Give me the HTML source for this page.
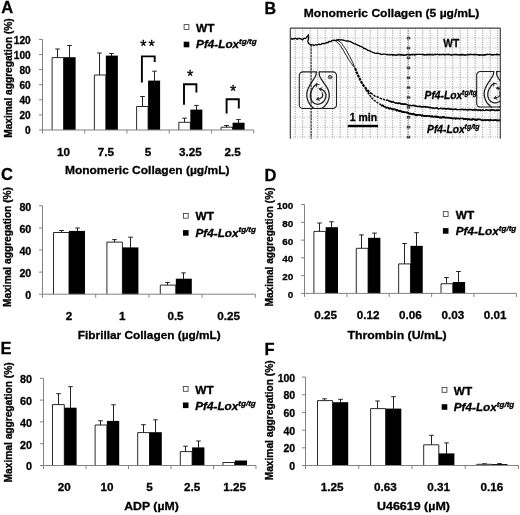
<!DOCTYPE html>
<html lang="en"><head><meta charset="utf-8"><title>Figure</title>
<style>html,body{margin:0;padding:0;background:#fff}svg{display:block}text{font-family:'Liberation Sans', 'DejaVu Sans', sans-serif;font-weight:bold;fill:#000;stroke:#000;stroke-width:0.3px;stroke-linejoin:round}</style>
</head><body>
<svg width="520" height="515" viewBox="0 0 520 515">
<rect width="520" height="515" fill="#fff"/>
<text x="1.3" y="13.4" font-size="16.5">A</text>
<path d="M39.0 130.00H42.5" stroke="#828282" stroke-width="1"/>
<text x="30.7" y="134.40" font-size="10.1" text-anchor="end">0</text>
<path d="M39.0 114.90H42.5" stroke="#828282" stroke-width="1"/>
<text x="30.7" y="119.30" font-size="10.1" text-anchor="end">20</text>
<path d="M39.0 99.80H42.5" stroke="#828282" stroke-width="1"/>
<text x="30.7" y="104.20" font-size="10.1" text-anchor="end">40</text>
<path d="M39.0 84.70H42.5" stroke="#828282" stroke-width="1"/>
<text x="30.7" y="89.10" font-size="10.1" text-anchor="end">60</text>
<path d="M39.0 69.60H42.5" stroke="#828282" stroke-width="1"/>
<text x="30.7" y="74.00" font-size="10.1" text-anchor="end">80</text>
<path d="M39.0 54.50H42.5" stroke="#828282" stroke-width="1"/>
<text x="30.7" y="58.90" font-size="10.1" text-anchor="end">100</text>
<path d="M39.0 39.40H42.5" stroke="#828282" stroke-width="1"/>
<text x="30.7" y="43.80" font-size="10.1" text-anchor="end">120</text>
<path d="M42.50 130V133.5" stroke="#828282" stroke-width="1"/>
<path d="M84.74 130V133.5" stroke="#828282" stroke-width="1"/>
<path d="M126.98 130V133.5" stroke="#828282" stroke-width="1"/>
<path d="M169.22 130V133.5" stroke="#828282" stroke-width="1"/>
<path d="M211.46 130V133.5" stroke="#828282" stroke-width="1"/>
<path d="M253.70 130V133.5" stroke="#828282" stroke-width="1"/>
<path d="M57.5 57.6V49M55.2 49h4.6" stroke="#222" stroke-width="1" fill="none"/>
<path d="M69.5 57.6V45.5M67.2 45.5h4.6" stroke="#222" stroke-width="1" fill="none"/>
<path d="M52.12 130V57.6H63.62V130" fill="#fff" stroke="#111" stroke-width="0.9"/>
<rect x="63.62" y="57.2" width="12.00" height="72.80" fill="#000"/>
<path d="M99.5 75V53M97.2 53h4.6" stroke="#222" stroke-width="1" fill="none"/>
<path d="M111.5 56V53.5M109.2 53.5h4.6" stroke="#222" stroke-width="1" fill="none"/>
<path d="M94.36 130V75H105.86V130" fill="#fff" stroke="#111" stroke-width="0.9"/>
<rect x="105.86" y="55.6" width="12.00" height="74.40" fill="#000"/>
<path d="M142.5 106.5V96.5M140.2 96.5h4.6" stroke="#222" stroke-width="1" fill="none"/>
<path d="M154.5 81V71.2M152.2 71.2h4.6" stroke="#222" stroke-width="1" fill="none"/>
<path d="M136.60 130V106.5H148.10V130" fill="#fff" stroke="#111" stroke-width="0.9"/>
<rect x="148.10" y="80.6" width="12.00" height="49.40" fill="#000"/>
<path d="M184.5 122.3V118.2M182.2 118.2h4.6" stroke="#222" stroke-width="1" fill="none"/>
<path d="M196.5 110V105.4M194.2 105.4h4.6" stroke="#222" stroke-width="1" fill="none"/>
<path d="M178.84 130V122.3H190.34V130" fill="#fff" stroke="#111" stroke-width="0.9"/>
<rect x="190.34" y="109.6" width="12.00" height="20.40" fill="#000"/>
<path d="M226.5 127.2V125.5M224.2 125.5h4.6" stroke="#222" stroke-width="1" fill="none"/>
<path d="M238.5 123.1V119.6M236.2 119.6h4.6" stroke="#222" stroke-width="1" fill="none"/>
<path d="M221.08 130V127.2H232.58V130" fill="#fff" stroke="#111" stroke-width="0.9"/>
<rect x="232.58" y="122.69999999999999" width="12.00" height="7.30" fill="#000"/>
<path d="M42.5 39.4V130H253.7" fill="none" stroke="#828282" stroke-width="1"/>
<text x="63.62" y="156" font-size="11.7" text-anchor="middle">10</text>
<text x="105.86" y="156" font-size="11.7" text-anchor="middle">7.5</text>
<text x="148.10" y="156" font-size="11.7" text-anchor="middle">5</text>
<text x="190.34" y="156" font-size="11.7" text-anchor="middle">3.25</text>
<text x="232.58" y="156" font-size="11.7" text-anchor="middle">2.5</text>
<text x="147.2" y="173.5" font-size="11.7" text-anchor="middle" textLength="164.5" lengthAdjust="spacingAndGlyphs">Monomeric Collagen (µg/mL)</text>
<text transform="translate(11.7 78) rotate(-90)" font-size="10.4" text-anchor="middle" textLength="119.5" lengthAdjust="spacingAndGlyphs">Maximal aggregation (%)</text>
<rect x="184.10000000000002" y="24.6" width="4.8" height="4.8" fill="#fff" stroke="#333" stroke-width="0.8"/>
<rect x="183.70000000000002" y="41.699999999999996" width="5.6" height="5.6" fill="#000"/>
<text x="196.1" y="31.7" font-size="10.8" textLength="18.4" lengthAdjust="spacingAndGlyphs">WT</text>
<text x="196.1" y="47.9" font-size="10.6" font-style="italic"><tspan textLength="43" lengthAdjust="spacingAndGlyphs">Pf4-Lox</tspan><tspan dy="-4.2" font-size="7.8" textLength="17.5" lengthAdjust="spacingAndGlyphs">tg/tg</tspan></text>
<path d="M141.9 82.5V56.4H154.7V62" fill="none" stroke="#000" stroke-width="1.9"/>
<path d="M184 104.8V84.3H196.4V92.4" fill="none" stroke="#000" stroke-width="1.9"/>
<path d="M226.6 113.4V99.3H238.8V108.5" fill="none" stroke="#000" stroke-width="1.9"/>
<text x="148.6" y="52.2" font-size="16" text-anchor="middle" style="font-weight:normal;stroke-width:0.35px;letter-spacing:2px">**</text>
<text x="191" y="81.6" font-size="16" text-anchor="middle" style="font-weight:normal;stroke-width:0.35px;letter-spacing:2px">*</text>
<text x="234.2" y="97" font-size="16" text-anchor="middle" style="font-weight:normal;stroke-width:0.35px;letter-spacing:2px">*</text>
<text x="1" y="180.3" font-size="16.5">C</text>
<path d="M39.0 294.20H42.5" stroke="#828282" stroke-width="1"/>
<text x="31.3" y="299.40" font-size="10.7" text-anchor="end">0</text>
<path d="M39.0 272.10H42.5" stroke="#828282" stroke-width="1"/>
<text x="31.3" y="277.30" font-size="10.7" text-anchor="end">20</text>
<path d="M39.0 250.00H42.5" stroke="#828282" stroke-width="1"/>
<text x="31.3" y="255.20" font-size="10.7" text-anchor="end">40</text>
<path d="M39.0 227.90H42.5" stroke="#828282" stroke-width="1"/>
<text x="31.3" y="233.10" font-size="10.7" text-anchor="end">60</text>
<path d="M39.0 205.80H42.5" stroke="#828282" stroke-width="1"/>
<text x="31.3" y="211.00" font-size="10.7" text-anchor="end">80</text>
<path d="M42.50 294.2V297.7" stroke="#828282" stroke-width="1"/>
<path d="M95.70 294.2V297.7" stroke="#828282" stroke-width="1"/>
<path d="M148.90 294.2V297.7" stroke="#828282" stroke-width="1"/>
<path d="M202.10 294.2V297.7" stroke="#828282" stroke-width="1"/>
<path d="M255.30 294.2V297.7" stroke="#828282" stroke-width="1"/>
<path d="M61.5 232.5V230.5M59.2 230.5h4.6" stroke="#222" stroke-width="1" fill="none"/>
<path d="M77.5 231.3V228M75.2 228h4.6" stroke="#222" stroke-width="1" fill="none"/>
<path d="M53.50 294.2V232.5H69.00V294.2" fill="#fff" stroke="#111" stroke-width="0.9"/>
<rect x="69.00" y="230.9" width="16.00" height="63.30" fill="#000"/>
<path d="M114.5 242.1V239.6M112.2 239.6h4.6" stroke="#222" stroke-width="1" fill="none"/>
<path d="M130.5 247.8V237.2M128.2 237.2h4.6" stroke="#222" stroke-width="1" fill="none"/>
<path d="M106.90 294.2V242.1H122.40V294.2" fill="#fff" stroke="#111" stroke-width="0.9"/>
<rect x="122.40" y="247.4" width="16.00" height="46.80" fill="#000"/>
<path d="M167.5 285.1V282.4M165.2 282.4h4.6" stroke="#222" stroke-width="1" fill="none"/>
<path d="M183.5 279.1V272.9M181.2 272.9h4.6" stroke="#222" stroke-width="1" fill="none"/>
<path d="M160.30 294.2V285.1H175.80V294.2" fill="#fff" stroke="#111" stroke-width="0.9"/>
<rect x="175.80" y="278.70000000000005" width="16.00" height="15.50" fill="#000"/>
<path d="M42.5 205.8V294.2H255.3" fill="none" stroke="#828282" stroke-width="1"/>
<text x="69.10" y="320" font-size="11.7" text-anchor="middle">2</text>
<text x="122.30" y="320" font-size="11.7" text-anchor="middle">1</text>
<text x="175.50" y="320" font-size="11.7" text-anchor="middle">0.5</text>
<text x="228.70" y="320" font-size="11.7" text-anchor="middle">0.25</text>
<text x="149.3" y="339" font-size="11.7" text-anchor="middle" textLength="143" lengthAdjust="spacingAndGlyphs">Fibrillar Collagen (µg/mL)</text>
<text transform="translate(11.4 247) rotate(-90)" font-size="10.4" text-anchor="middle" textLength="120" lengthAdjust="spacingAndGlyphs">Maximal aggregation (%)</text>
<rect x="183.4" y="213.4" width="4.8" height="4.8" fill="#fff" stroke="#333" stroke-width="0.8"/>
<rect x="183.0" y="230.1" width="5.6" height="5.6" fill="#000"/>
<text x="195.5" y="220.4" font-size="10.8" textLength="18.4" lengthAdjust="spacingAndGlyphs">WT</text>
<text x="195.5" y="236.6" font-size="10.6" font-style="italic"><tspan textLength="43" lengthAdjust="spacingAndGlyphs">Pf4-Lox</tspan><tspan dy="-4.2" font-size="7.8" textLength="17.5" lengthAdjust="spacingAndGlyphs">tg/tg</tspan></text>
<text x="0.4" y="354" font-size="16.5">E</text>
<path d="M40.0 465.50H43.5" stroke="#828282" stroke-width="1"/>
<text x="32.1" y="470.40" font-size="10.8" text-anchor="end">0</text>
<path d="M40.0 443.70H43.5" stroke="#828282" stroke-width="1"/>
<text x="32.1" y="448.60" font-size="10.8" text-anchor="end">20</text>
<path d="M40.0 421.90H43.5" stroke="#828282" stroke-width="1"/>
<text x="32.1" y="426.80" font-size="10.8" text-anchor="end">40</text>
<path d="M40.0 400.10H43.5" stroke="#828282" stroke-width="1"/>
<text x="32.1" y="405.00" font-size="10.8" text-anchor="end">60</text>
<path d="M40.0 378.30H43.5" stroke="#828282" stroke-width="1"/>
<text x="32.1" y="383.20" font-size="10.8" text-anchor="end">80</text>
<path d="M43.50 465.5V469.0" stroke="#828282" stroke-width="1"/>
<path d="M86.00 465.5V469.0" stroke="#828282" stroke-width="1"/>
<path d="M128.50 465.5V469.0" stroke="#828282" stroke-width="1"/>
<path d="M171.00 465.5V469.0" stroke="#828282" stroke-width="1"/>
<path d="M213.50 465.5V469.0" stroke="#828282" stroke-width="1"/>
<path d="M256.00 465.5V469.0" stroke="#828282" stroke-width="1"/>
<path d="M58.5 404.6V393.7M56.2 393.7h4.6" stroke="#222" stroke-width="1" fill="none"/>
<path d="M70.5 408.1V386.7M68.2 386.7h4.6" stroke="#222" stroke-width="1" fill="none"/>
<path d="M52.50 465.5V404.6H64.30V465.5" fill="#fff" stroke="#111" stroke-width="0.9"/>
<rect x="64.30" y="407.70000000000005" width="12.30" height="57.80" fill="#000"/>
<path d="M100.5 425V420.8M98.2 420.8h4.6" stroke="#222" stroke-width="1" fill="none"/>
<path d="M113.5 421.3V404.8M111.2 404.8h4.6" stroke="#222" stroke-width="1" fill="none"/>
<path d="M95.10 465.5V425H106.90V465.5" fill="#fff" stroke="#111" stroke-width="0.9"/>
<rect x="106.90" y="420.90000000000003" width="12.30" height="44.60" fill="#000"/>
<path d="M143.5 432.6V424.7M141.2 424.7h4.6" stroke="#222" stroke-width="1" fill="none"/>
<path d="M155.5 432.6V419.8M153.2 419.8h4.6" stroke="#222" stroke-width="1" fill="none"/>
<path d="M137.70 465.5V432.6H149.50V465.5" fill="#fff" stroke="#111" stroke-width="0.9"/>
<rect x="149.50" y="432.20000000000005" width="12.30" height="33.30" fill="#000"/>
<path d="M185.5 451.6V446.2M183.2 446.2h4.6" stroke="#222" stroke-width="1" fill="none"/>
<path d="M198.5 447.8V441M196.2 441h4.6" stroke="#222" stroke-width="1" fill="none"/>
<path d="M180.30 465.5V451.6H192.10V465.5" fill="#fff" stroke="#111" stroke-width="0.9"/>
<rect x="192.10" y="447.40000000000003" width="12.30" height="18.10" fill="#000"/>
<path d="M222.90 465.5V462.5H234.70V465.5" fill="#fff" stroke="#111" stroke-width="0.9"/>
<rect x="234.70" y="460.5" width="12.30" height="5.00" fill="#000"/>
<path d="M43.5 378.3V465.5H256" fill="none" stroke="#828282" stroke-width="1"/>
<text x="64.30" y="491" font-size="11.7" text-anchor="middle">20</text>
<text x="106.90" y="491" font-size="11.7" text-anchor="middle">10</text>
<text x="149.50" y="491" font-size="11.7" text-anchor="middle">5</text>
<text x="192.10" y="491" font-size="11.7" text-anchor="middle">2.5</text>
<text x="234.70" y="491" font-size="11.7" text-anchor="middle">1.25</text>
<text x="151.5" y="509.7" font-size="11.7" text-anchor="middle" textLength="54.5" lengthAdjust="spacingAndGlyphs">ADP (µM)</text>
<text transform="translate(11.8 422.4) rotate(-90)" font-size="10.4" text-anchor="middle" textLength="120" lengthAdjust="spacingAndGlyphs">Maximal aggregation (%)</text>
<rect x="183.3" y="386.5" width="4.8" height="4.8" fill="#fff" stroke="#333" stroke-width="0.8"/>
<rect x="182.9" y="402.5" width="5.6" height="5.6" fill="#000"/>
<text x="195.3" y="393.7" font-size="10.8" textLength="18.4" lengthAdjust="spacingAndGlyphs">WT</text>
<text x="195.3" y="409.8" font-size="10.6" font-style="italic"><tspan textLength="43" lengthAdjust="spacingAndGlyphs">Pf4-Lox</tspan><tspan dy="-4.2" font-size="7.8" textLength="17.5" lengthAdjust="spacingAndGlyphs">tg/tg</tspan></text>
<text x="264.5" y="180.6" font-size="16.5">D</text>
<path d="M301.0 293.40H304.5" stroke="#828282" stroke-width="1"/>
<text x="293.3" y="297.80" font-size="9.9" text-anchor="end">0</text>
<path d="M301.0 275.64H304.5" stroke="#828282" stroke-width="1"/>
<text x="293.3" y="280.04" font-size="9.9" text-anchor="end">20</text>
<path d="M301.0 257.88H304.5" stroke="#828282" stroke-width="1"/>
<text x="293.3" y="262.28" font-size="9.9" text-anchor="end">40</text>
<path d="M301.0 240.12H304.5" stroke="#828282" stroke-width="1"/>
<text x="293.3" y="244.52" font-size="9.9" text-anchor="end">60</text>
<path d="M301.0 222.36H304.5" stroke="#828282" stroke-width="1"/>
<text x="293.3" y="226.76" font-size="9.9" text-anchor="end">80</text>
<path d="M301.0 204.60H304.5" stroke="#828282" stroke-width="1"/>
<text x="293.3" y="209.00" font-size="9.9" text-anchor="end">100</text>
<path d="M304.50 293.4V296.9" stroke="#828282" stroke-width="1"/>
<path d="M346.88 293.4V296.9" stroke="#828282" stroke-width="1"/>
<path d="M389.26 293.4V296.9" stroke="#828282" stroke-width="1"/>
<path d="M431.64 293.4V296.9" stroke="#828282" stroke-width="1"/>
<path d="M474.02 293.4V296.9" stroke="#828282" stroke-width="1"/>
<path d="M516.40 293.4V296.9" stroke="#828282" stroke-width="1"/>
<path d="M319.5 231.4V223M317.2 223h4.6" stroke="#222" stroke-width="1" fill="none"/>
<path d="M331.5 227.6V221.8M329.2 221.8h4.6" stroke="#222" stroke-width="1" fill="none"/>
<path d="M313.89 293.4V231.4H325.69V293.4" fill="#fff" stroke="#111" stroke-width="0.9"/>
<rect x="325.69" y="227.2" width="12.30" height="66.20" fill="#000"/>
<path d="M361.5 248.3V234.9M359.2 234.9h4.6" stroke="#222" stroke-width="1" fill="none"/>
<path d="M374.5 238.2V233.1M372.2 233.1h4.6" stroke="#222" stroke-width="1" fill="none"/>
<path d="M356.27 293.4V248.3H368.07V293.4" fill="#fff" stroke="#111" stroke-width="0.9"/>
<rect x="368.07" y="237.79999999999998" width="12.30" height="55.60" fill="#000"/>
<path d="M404.5 263.9V243.5M402.2 243.5h4.6" stroke="#222" stroke-width="1" fill="none"/>
<path d="M416.5 246.25V232.7M414.2 232.7h4.6" stroke="#222" stroke-width="1" fill="none"/>
<path d="M398.65 293.4V263.9H410.45V293.4" fill="#fff" stroke="#111" stroke-width="0.9"/>
<rect x="410.45" y="245.85" width="12.30" height="47.55" fill="#000"/>
<path d="M446.5 283.75V277.5M444.2 277.5h4.6" stroke="#222" stroke-width="1" fill="none"/>
<path d="M458.5 282.4V271.5M456.2 271.5h4.6" stroke="#222" stroke-width="1" fill="none"/>
<path d="M441.03 293.4V283.75H452.83V293.4" fill="#fff" stroke="#111" stroke-width="0.9"/>
<rect x="452.83" y="282.0" width="12.30" height="11.40" fill="#000"/>
<path d="M304.5 204.6V293.4H516.4" fill="none" stroke="#828282" stroke-width="1"/>
<text x="325.69" y="319" font-size="11.7" text-anchor="middle">0.25</text>
<text x="368.07" y="319" font-size="11.7" text-anchor="middle">0.12</text>
<text x="410.45" y="319" font-size="11.7" text-anchor="middle">0.06</text>
<text x="452.83" y="319" font-size="11.7" text-anchor="middle">0.03</text>
<text x="495.21" y="319" font-size="11.7" text-anchor="middle">0.01</text>
<text x="397" y="338.5" font-size="11.7" text-anchor="middle" textLength="99" lengthAdjust="spacingAndGlyphs">Thrombin (U/mL)</text>
<text transform="translate(273 247) rotate(-90)" font-size="10.4" text-anchor="middle" textLength="119" lengthAdjust="spacingAndGlyphs">Maximal aggregation (%)</text>
<rect x="443.3" y="211.60000000000002" width="4.8" height="4.8" fill="#fff" stroke="#333" stroke-width="0.8"/>
<rect x="442.9" y="228.1" width="5.6" height="5.6" fill="#000"/>
<text x="455.8" y="218.5" font-size="10.8" textLength="18.4" lengthAdjust="spacingAndGlyphs">WT</text>
<text x="455.8" y="235.2" font-size="10.6" font-style="italic"><tspan textLength="43" lengthAdjust="spacingAndGlyphs">Pf4-Lox</tspan><tspan dy="-4.2" font-size="7.8" textLength="17.5" lengthAdjust="spacingAndGlyphs">tg/tg</tspan></text>
<text x="264.5" y="355" font-size="16.5">F</text>
<path d="M302.0 465.50H305.5" stroke="#828282" stroke-width="1"/>
<text x="295.2" y="469.90" font-size="10.5" text-anchor="end">0</text>
<path d="M302.0 447.82H305.5" stroke="#828282" stroke-width="1"/>
<text x="295.2" y="452.22" font-size="10.5" text-anchor="end">20</text>
<path d="M302.0 430.14H305.5" stroke="#828282" stroke-width="1"/>
<text x="295.2" y="434.54" font-size="10.5" text-anchor="end">40</text>
<path d="M302.0 412.46H305.5" stroke="#828282" stroke-width="1"/>
<text x="295.2" y="416.86" font-size="10.5" text-anchor="end">60</text>
<path d="M302.0 394.78H305.5" stroke="#828282" stroke-width="1"/>
<text x="295.2" y="399.18" font-size="10.5" text-anchor="end">80</text>
<path d="M302.0 377.10H305.5" stroke="#828282" stroke-width="1"/>
<text x="295.2" y="381.50" font-size="10.5" text-anchor="end">100</text>
<path d="M305.50 465.5V469.0" stroke="#828282" stroke-width="1"/>
<path d="M358.75 465.5V469.0" stroke="#828282" stroke-width="1"/>
<path d="M412.00 465.5V469.0" stroke="#828282" stroke-width="1"/>
<path d="M465.25 465.5V469.0" stroke="#828282" stroke-width="1"/>
<path d="M518.50 465.5V469.0" stroke="#828282" stroke-width="1"/>
<path d="M324.5 400.6V398.8M322.2 398.8h4.6" stroke="#222" stroke-width="1" fill="none"/>
<path d="M340.5 402.6V399.3M338.2 399.3h4.6" stroke="#222" stroke-width="1" fill="none"/>
<path d="M317.50 465.5V400.6H332.60V465.5" fill="#fff" stroke="#111" stroke-width="0.9"/>
<rect x="332.60" y="402.20000000000005" width="15.60" height="63.30" fill="#000"/>
<path d="M377.5 408.6V401M375.2 401h4.6" stroke="#222" stroke-width="1" fill="none"/>
<path d="M393.5 409V396.7M391.2 396.7h4.6" stroke="#222" stroke-width="1" fill="none"/>
<path d="M370.60 465.5V408.6H385.70V465.5" fill="#fff" stroke="#111" stroke-width="0.9"/>
<rect x="385.70" y="408.6" width="15.60" height="56.90" fill="#000"/>
<path d="M431.5 444.8V435.3M429.2 435.3h4.6" stroke="#222" stroke-width="1" fill="none"/>
<path d="M446.5 453.8V442.9M444.2 442.9h4.6" stroke="#222" stroke-width="1" fill="none"/>
<path d="M423.70 465.5V444.8H438.80V465.5" fill="#fff" stroke="#111" stroke-width="0.9"/>
<rect x="438.80" y="453.40000000000003" width="15.60" height="12.10" fill="#000"/>
<path d="M484.5 464.3V463.8M482.2 463.8h4.6" stroke="#222" stroke-width="1" fill="none"/>
<path d="M499.5 464.5V463.6M497.2 463.6h4.6" stroke="#222" stroke-width="1" fill="none"/>
<path d="M476.80 465.5V464.3H491.90V465.5" fill="#fff" stroke="#111" stroke-width="0.9"/>
<rect x="491.90" y="464.1" width="15.60" height="1.40" fill="#000"/>
<path d="M305.5 377.1V465.5H518.5" fill="none" stroke="#828282" stroke-width="1"/>
<text x="332.12" y="491" font-size="11.7" text-anchor="middle">1.25</text>
<text x="385.38" y="491" font-size="11.7" text-anchor="middle">0.63</text>
<text x="438.62" y="491" font-size="11.7" text-anchor="middle">0.31</text>
<text x="491.88" y="491" font-size="11.7" text-anchor="middle">0.16</text>
<text x="413.5" y="509.7" font-size="11.7" text-anchor="middle" textLength="73" lengthAdjust="spacingAndGlyphs">U46619 (µM)</text>
<text transform="translate(273.4 420.3) rotate(-90)" font-size="10.4" text-anchor="middle" textLength="120" lengthAdjust="spacingAndGlyphs">Maximal aggregation (%)</text>
<rect x="442.1" y="387.5" width="4.8" height="4.8" fill="#fff" stroke="#333" stroke-width="0.8"/>
<rect x="441.7" y="404.2" width="5.6" height="5.6" fill="#000"/>
<text x="453.8" y="395.1" font-size="10.8" textLength="18.4" lengthAdjust="spacingAndGlyphs">WT</text>
<text x="453.8" y="410.9" font-size="10.6" font-style="italic"><tspan textLength="43" lengthAdjust="spacingAndGlyphs">Pf4-Lox</tspan><tspan dy="-4.2" font-size="7.8" textLength="17.5" lengthAdjust="spacingAndGlyphs">tg/tg</tspan></text>
<text x="264.5" y="13.8" font-size="16">B</text>
<text x="391.6" y="17.3" font-size="11.8" text-anchor="middle" textLength="175.5" lengthAdjust="spacingAndGlyphs">Monomeric Collagen (5 µg/mL)</text>
<g id="panelB">
<clipPath id="cb"><rect x="290.3" y="28.1" width="210.0" height="110.70000000000002"/></clipPath>
<rect x="290.3" y="28.1" width="210.0" height="110.70000000000002" fill="#fcfcfc"/>
<g clip-path="url(#cb)" stroke="#8e8e8e" stroke-width="0.9" fill="none">
<path d="M295.2 28.1V138.8M302.7 28.1V138.8M310.2 28.1V138.8M317.7 28.1V138.8M325.2 28.1V138.8M332.7 28.1V138.8M340.2 28.1V138.8M347.7 28.1V138.8M355.2 28.1V138.8M362.7 28.1V138.8M370.2 28.1V138.8M377.7 28.1V138.8M385.2 28.1V138.8M392.7 28.1V138.8M400.2 28.1V138.8M407.7 28.1V138.8M415.2 28.1V138.8M422.7 28.1V138.8M430.2 28.1V138.8M437.7 28.1V138.8M445.2 28.1V138.8M452.7 28.1V138.8M460.2 28.1V138.8M467.7 28.1V138.8M475.2 28.1V138.8M482.7 28.1V138.8M490.2 28.1V138.8M497.7 28.1V138.8" stroke-dasharray="1.1 1.2"/>
<path d="M290.3 28.1H500.3M290.3 38.0H500.3M290.3 47.9H500.3M290.3 57.8H500.3M290.3 67.7H500.3M290.3 77.6H500.3M290.3 87.5H500.3M290.3 97.4H500.3M290.3 107.3H500.3M290.3 117.2H500.3M290.3 127.1H500.3M290.3 137.0H500.3" stroke-dasharray="0.9 1.4" stroke="#b6b6b6"/>
</g>
<rect x="406.8" y="36.8" width="3.4" height="2.6" fill="#3c3c3c"/><rect x="406.8" y="46.7" width="3.4" height="2.6" fill="#3c3c3c"/><rect x="406.8" y="56.6" width="3.4" height="2.6" fill="#3c3c3c"/><rect x="406.8" y="66.5" width="3.4" height="2.6" fill="#3c3c3c"/><rect x="406.8" y="76.4" width="3.4" height="2.6" fill="#3c3c3c"/><rect x="406.8" y="86.3" width="3.4" height="2.6" fill="#3c3c3c"/><rect x="406.8" y="96.2" width="3.4" height="2.6" fill="#3c3c3c"/><rect x="406.8" y="106.1" width="3.4" height="2.6" fill="#3c3c3c"/><rect x="406.8" y="116.0" width="3.4" height="2.6" fill="#3c3c3c"/><rect x="406.8" y="125.9" width="3.4" height="2.6" fill="#3c3c3c"/><rect x="406.8" y="135.8" width="3.4" height="2.6" fill="#3c3c3c"/>
<path d="M408.5 28.1V138.8" stroke="#8a8a8a" stroke-width="0.9" stroke-dasharray="1.2 1.2"/>
<path d="M311.2 45V138.8" stroke="#606060" stroke-width="1.5" stroke-dasharray="2.6 0.7"/>
<g clip-path="url(#cb)" fill="none" stroke="#000" stroke-linejoin="round" stroke-linecap="round">
<path d="M290.6 38.6L291.2 38.5L292.1 39.4L293.0 38.7L294.0 39.0L295.0 38.4L296.0 38.4L297.0 39.4L298.0 38.5L299.0 38.7L300.0 38.5L301.0 38.9L301.8 39.4L302.6 39.8L303.4 38.7L304.3 38.3L305.0 38.4L305.7 38.5L306.4 37.5L307.0 36.6L307.6 36.7L308.3 34.6L308.4 36.3L308.5 36.4L308.5 37.2L308.5 38.1L308.3 39.4L307.9 41.1L307.8 41.2L308.2 42.8L309.0 43.8L309.6 44.0L310.3 44.9L311.0 44.6L311.9 44.8L313.0 44.9L313.9 45.5L315.0 45.0L316.0 44.7L317.0 45.0L318.0 44.6L319.0 44.2L320.0 44.7L321.0 44.3L322.0 43.4L323.0 43.6L324.0 43.3L325.0 43.5L326.0 43.1L327.0 42.2L328.0 42.9L329.0 41.4L330.0 41.5L331.0 41.7L332.0 40.5L333.0 40.7L334.0 39.9L334.9 40.6L335.8 40.5L336.6 40.1L337.2 39.9" stroke-width="1.3"/>
<path d="M337.2 40.1L338.4 39.6L340.0 39.9L341.1 39.9L342.3 40.0L343.4 40.1L345.0 40.6L346.5 41.0L348.0 40.9L349.5 41.5L350.5 41.4L351.6 42.3L352.6 42.7L353.6 43.5L354.7 43.9L355.7 44.0L356.7 44.6L357.8 45.3L358.8 45.3L359.8 46.2L360.8 46.4L361.8 46.9L362.9 47.4L363.9 48.5L365.0 48.5L366.0 49.1L367.0 49.7L368.0 50.6L369.4 50.6L371.0 51.6L372.2 52.0L373.5 52.7L375.0 53.1L376.1 53.3L377.3 53.1L378.5 53.5L379.8 53.7L381.0 54.3L382.2 54.5L383.5 54.0L384.7 54.2L385.9 54.3L387.0 54.4L388.3 54.7L389.4 54.8L391.0 54.6L391.8 54.4L392.6 54.8L393.5 54.7L394.5 54.9L395.6 55.2L396.9 55.0L398.3 54.8L400.0 54.9L400.8 54.9L401.7 54.4L402.7 55.1L403.7 55.0L404.8 55.1L405.9 55.0L407.0 54.7L408.1 54.7L409.3 54.4L410.5 54.9L411.7 54.4L412.9 54.4L414.1 54.5L415.3 54.5L416.5 54.6L417.7 54.4L418.9 54.3L420.0 54.4L421.1 54.4L422.2 54.6L423.3 54.3L424.4 55.0L425.6 54.8L426.7 54.4L427.8 54.5L428.9 54.5L430.0 54.5L431.1 54.3L432.2 54.9L433.3 55.0L434.4 54.6L435.6 54.6L436.7 54.3L437.8 54.3L438.9 54.5L440.0 54.4L441.1 54.9L442.2 54.3L443.3 54.2L444.4 55.0L445.6 54.6L446.7 54.3L447.8 54.6L448.9 54.2L450.0 54.6L451.1 55.0L452.2 54.9L453.3 54.7L454.4 54.4L455.6 54.5L456.7 54.3L457.8 54.8L458.9 54.6L460.0 54.8L461.1 54.5L462.2 54.4L463.3 54.9L464.4 55.0L465.6 54.9L466.7 54.9L467.8 54.9L468.9 54.8L470.0 54.4L471.1 54.7L472.2 54.6L473.3 54.3L474.5 54.3L475.6 54.5L476.7 54.5L477.8 54.9L478.9 55.1L480.0 54.7L481.1 55.0L482.3 55.1L483.5 55.1L484.8 54.6L486.1 54.5L487.3 54.5L488.6 54.4L489.9 54.4L491.1 54.8L492.4 55.0L493.5 54.9L494.7 54.6L495.7 54.7L496.7 54.9L497.6 54.3L498.5 54.7L499.2 54.9L499.8 54.6" stroke-width="1.3"/>
<path d="M387.0 55.1L387.6 55.0L388.4 54.7L389.6 54.2L391.0 55.3L391.6 54.5L392.3 55.3L393.0 55.6L393.7 54.7L394.5 54.7L395.4 55.5L396.3 55.2L397.4 54.3L398.6 54.2L400.0 54.2L400.7 55.4L401.4 55.3L402.2 54.2L403.0 55.3L403.8 55.6L404.7 55.0L405.6 54.5L406.5 54.8L407.4 54.2L408.3 54.0L409.3 55.5L410.3 55.0L411.3 54.8L412.3 55.4L413.3 54.6L414.2 55.3L415.2 55.2L416.2 54.3L417.2 54.3L418.1 54.4L419.1 54.3L420.0 54.8L420.9 54.3L421.8 54.6L422.7 54.1L423.6 55.3L424.5 54.4L425.5 54.6L426.4 54.8L427.3 55.3L428.2 54.5L429.1 55.3L430.0 54.6L430.9 54.7L431.8 54.7L432.7 53.9L433.6 54.5L434.5 54.1L435.5 53.8L436.4 55.1L437.3 54.1L438.2 54.6L439.1 55.0L440.0 54.7L440.9 54.3L441.8 54.6L442.7 54.7L443.6 55.0L444.5 54.0L445.5 54.7L446.4 54.2L447.3 54.2L448.2 55.0L449.1 54.6L450.0 54.7L450.9 55.0L451.8 55.2L452.7 54.5L453.6 54.8L454.5 54.6L455.5 54.6L456.4 54.9L457.3 54.5L458.2 54.6L459.1 54.6L460.0 55.3L460.9 54.9L461.8 55.2L462.7 55.3L463.6 54.2L464.5 54.7L465.5 55.3L466.4 55.2L467.3 54.1L468.2 54.0L469.1 54.6L470.0 54.0L470.9 54.2L471.8 54.0L472.7 54.9L473.7 55.1L474.6 55.3L475.5 54.1L476.4 55.0L477.3 55.0L478.2 54.1L479.1 55.3L480.0 55.4L480.9 54.3L481.9 55.4L482.9 54.5L483.9 54.7L484.9 55.5L485.9 55.2L487.0 54.1L488.0 54.6L489.1 54.7L490.1 54.4L491.1 54.2L492.2 54.4L493.1 55.0L494.1 53.9L495.0 54.7L495.8 54.5L496.6 53.8L497.4 54.3L498.1 54.8L498.7 54.6L499.3 53.9L499.8 54.6" stroke-width="0.8"/>
<path d="M337.2 40.1L338.2 40.6L339.5 41.5L340.7 42.3L341.8 43.6L342.5 44.5L343.2 45.8L344.0 46.7L344.6 47.6L345.3 48.6L345.9 49.7L346.5 50.7L347.0 51.5L347.6 52.5L348.1 53.7L348.6 54.6L349.2 55.7L349.8 56.6L350.4 57.7L351.0 59.1L351.6 60.1L352.1 61.2L352.7 62.7L353.2 63.7L353.7 65.0L354.2 66.1L354.7 67.5L355.0 68.2" stroke-width="0.9"/>
<path d="M335.4 40.5L336.4 41.6L337.8 42.7L338.6 43.5L339.4 44.4L340.2 45.5L341.0 46.4L341.7 47.6L342.5 49.0L343.1 49.9L343.7 50.9L344.2 51.9L344.8 52.9L345.5 54.2L346.3 55.5L347.0 56.7L347.6 57.8L348.2 58.7L348.8 59.7L349.4 60.5L350.1 61.6L350.7 62.5L351.3 63.5L352.1 64.5L352.8 65.8L353.4 66.4" stroke-width="0.9"/>
<path d="M355.0 68.2L355.4 68.9L355.9 70.3L356.4 72.0L357.0 72.8L357.5 74.4L358.1 75.3L358.6 76.5L359.2 77.9L359.8 78.8L360.3 80.0L360.9 81.3L361.5 82.5L362.3 83.4L363.0 84.9L363.8 85.9L364.6 87.0L365.4 87.9L366.2 88.9L367.0 89.7L367.7 90.6L368.5 91.3L369.8 92.8L370.8 93.4" stroke-width="2.1" stroke-dasharray="2.8 0.8" stroke-linecap="butt"/>
<path d="M370.8 93.2L371.6 93.7L372.8 94.3L374.0 95.5L375.0 96.1L376.0 96.5L377.0 96.7L378.5 97.4L380.0 98.1L381.4 98.7L383.0 99.1L384.4 99.7L385.9 100.0L387.0 100.5" stroke-width="1.5" stroke-dasharray="2.4 1" stroke-linecap="butt"/>
<path d="M365.9 89.7L366.4 90.5L367.1 91.4L367.9 92.4L368.6 94.0L369.3 94.7L370.1 95.8L370.8 96.6L371.9 98.1L373.0 99.2L374.1 100.3L375.4 101.2L376.4 102.1L377.4 102.5L378.4 103.3L379.5 103.9L380.7 104.7L381.5 105.2" stroke-width="1.5" stroke-dasharray="2.2 1.1" stroke-linecap="butt"/>
<path d="M387.0 100.2L387.9 100.4L389.3 101.0L390.8 101.3L392.0 101.9L393.3 102.2L394.6 102.7L396.0 102.9L397.1 103.2L398.2 103.5L399.4 103.3L400.5 103.4L401.5 104.0L402.7 103.7L403.8 104.3L404.9 104.4L406.0 104.2L407.2 104.9L408.4 105.1L409.6 105.1L410.8 105.4L411.9 105.6L413.1 105.3L414.2 105.7L415.3 105.9L416.3 106.3L417.3 106.4L418.4 106.5L420.0 106.6L420.9 106.9L421.9 106.8L422.9 107.0L424.1 106.8L425.2 106.8L426.4 107.0L427.6 107.3L428.8 107.2L430.0 107.8L431.1 107.8L432.2 107.9L433.3 108.0L434.4 108.1L435.5 108.1L436.7 107.9L437.9 108.5L439.2 108.6L440.5 108.5L441.5 108.6L442.5 108.7L443.6 108.4L444.7 108.9L445.8 108.7L446.9 108.6L448.0 108.8L449.2 109.2L450.4 108.9L451.5 109.3L452.7 109.5L453.9 109.2L455.0 109.2L456.1 109.3L457.3 109.5L458.4 109.6L459.6 109.6L460.7 109.6L461.9 109.3L463.0 109.4L464.2 109.5L465.4 109.8L466.5 109.6L467.7 109.8L468.8 109.4L470.0 109.5L471.2 109.7L472.3 110.0L473.5 110.0L474.6 110.0L475.8 109.8L476.9 110.0L478.1 110.0L479.2 110.0L480.4 109.8L481.6 110.3L482.7 109.9L483.9 110.4L485.0 110.4L486.2 109.8L487.4 110.1L488.7 110.4L490.1 110.5L491.4 110.2L492.7 110.0L494.0 110.0L495.2 110.6L496.3 110.1L497.4 110.3L498.3 110.0L499.1 110.3L499.8 110.3" stroke-width="1.4"/>
<path d="M381.5 105.5L382.4 105.4L383.7 106.5L385.0 106.9L386.0 107.5L387.0 107.8L388.1 107.8L389.2 108.6L390.4 108.6L391.6 108.6L392.8 108.9L394.0 109.6L395.1 109.9L396.3 110.0L397.4 110.2L398.5 110.6L399.6 110.8L400.7 111.5L401.9 111.2L403.0 112.0L404.2 112.3L405.4 112.1L406.6 112.9L407.7 113.0L408.9 113.5L409.9 113.3L411.0 113.6L412.3 113.9L413.8 114.7L415.3 114.7L416.3 114.7L417.3 114.8L418.4 114.9L420.0 114.9L420.9 115.0L421.9 115.6L422.9 115.4L424.1 116.0L425.2 115.6L426.4 115.8L427.6 116.1L428.8 116.0L430.0 116.2L431.1 116.7L432.3 116.8L433.4 116.8L434.5 116.8L435.7 117.1L436.8 117.2L438.0 117.0L439.2 117.3L440.5 116.9L441.6 117.5L442.6 117.3L443.8 117.6L444.9 117.7L446.0 117.5L447.2 117.4L448.3 118.1L449.5 117.7L450.7 118.0L451.8 118.0L453.0 118.1L454.1 118.4L455.3 118.7L456.4 118.3L457.6 118.6L458.7 118.4L459.9 118.7L461.0 118.6L462.2 118.6L463.4 118.6L464.6 118.7L465.8 119.3L466.9 119.1L468.0 118.9L469.1 119.5L470.2 119.6L471.3 119.3L472.5 119.2L473.6 119.3L474.8 119.3L476.0 119.5L477.3 119.4L478.6 119.6L480.0 119.6L481.0 119.9L482.1 120.2L483.2 120.1L484.4 119.9L485.6 120.0L486.9 120.1L488.2 120.0L489.5 120.0L490.8 119.9L492.1 120.1L493.3 120.6L494.5 120.1L495.6 120.4L496.6 120.5L497.6 120.7L498.4 120.3L499.2 120.3L499.8 120.5" stroke-width="1.4"/>
<path d="M387.0 100.0L387.7 100.5L388.6 100.8L389.7 102.0L390.8 102.1L391.7 102.4L392.8 101.2L393.8 101.5L394.9 102.9L396.0 103.5L396.9 102.9L397.8 103.3L398.8 102.4L399.7 103.2L400.6 104.3L401.5 104.3L402.5 104.5L403.4 104.9L404.2 103.7L405.1 103.6L406.0 103.9L406.9 104.7L407.9 105.1L408.9 105.7L409.9 105.5L410.8 105.5L411.7 105.8L412.6 105.4L413.5 105.7L414.4 104.9L415.3 106.4L416.1 105.5L416.9 106.9L417.7 106.5L418.7 106.0L420.0 105.8L420.7 106.1L421.5 106.9L422.3 107.1L423.2 106.2L424.2 106.2L425.1 107.1L426.1 107.3L427.1 107.1L428.1 106.9L429.1 107.7L430.0 106.7L430.9 107.3L431.8 107.7L432.7 108.7L433.6 108.2L434.5 108.7L435.4 108.1L436.4 107.7L437.3 107.8L438.3 109.2L439.4 108.8L440.5 108.2L441.3 107.7L442.1 108.6L443.0 109.0L443.8 108.6L444.7 108.3L445.6 109.1L446.5 109.6L447.5 108.4L448.4 108.1L449.4 108.7L450.3 108.9L451.2 109.5L452.2 108.6L453.1 109.7L454.1 109.7L455.0 109.3L455.9 108.8L456.9 110.2L457.8 109.1L458.7 110.0L459.7 109.0L460.6 109.0L461.5 110.0L462.5 109.2L463.4 110.4L464.4 109.6L465.3 109.1L466.2 109.2L467.2 109.6L468.1 110.0L469.1 110.6L470.0 109.2L470.9 109.6L471.9 109.3L472.8 110.7L473.8 109.2L474.7 109.1L475.6 109.1L476.6 109.8L477.5 110.7L478.5 110.7L479.4 110.4L480.3 110.9L481.3 110.8L482.2 109.7L483.1 109.5L484.1 110.9L485.0 110.5L486.0 109.3L487.0 110.4L488.0 109.9L489.1 109.9L490.1 109.9L491.2 109.6L492.3 109.3L493.3 109.8L494.4 110.0L495.3 111.1L496.3 109.6L497.1 111.1L497.9 109.7L498.7 110.0L499.3 110.9L499.8 110.3" stroke-width="0.8"/>
<path d="M381.5 105.8L382.1 105.4L383.0 105.2L384.0 106.4L385.0 106.7L386.0 108.0L387.0 107.1L388.1 107.7L389.2 109.0L390.1 107.7L391.1 108.7L392.1 109.7L393.0 109.8L394.0 108.8L394.9 109.0L395.8 109.3L396.7 111.0L397.6 110.0L398.5 111.1L399.4 111.6L400.3 110.9L401.2 111.0L402.1 112.4L403.0 112.0L403.9 111.6L404.9 112.6L405.9 112.2L406.8 112.3L407.7 112.0L408.9 113.6L409.9 114.2L411.0 113.9L412.0 114.7L413.1 113.3L414.2 113.9L415.3 114.6L416.1 115.6L416.9 115.7L417.7 114.7L418.7 114.6L420.0 115.1L420.7 115.3L421.5 116.1L422.3 114.9L423.2 116.1L424.2 116.1L425.1 116.4L426.1 116.4L427.1 116.2L428.1 115.8L429.1 115.9L430.0 116.1L430.9 116.9L431.9 115.7L432.8 116.0L433.7 117.1L434.6 116.3L435.6 116.0L436.5 116.0L437.5 117.0L438.5 116.7L439.5 118.0L440.5 117.9L441.4 118.2L442.3 116.9L443.2 116.7L444.2 116.8L445.1 117.6L446.1 118.0L447.1 117.7L448.1 117.3L449.1 117.8L450.1 118.2L451.0 118.4L452.0 118.6L453.0 118.8L453.9 118.6L454.8 117.6L455.7 119.0L456.6 118.1L457.5 118.6L458.4 118.3L459.3 119.0L460.2 118.1L461.1 118.3L462.0 118.3L463.0 118.2L463.9 119.6L464.8 119.1L465.8 118.7L466.7 118.9L467.6 120.0L468.5 119.2L469.3 118.7L470.2 119.8L471.1 119.6L472.0 120.3L472.9 118.7L473.8 119.4L474.8 120.1L475.8 120.2L476.8 120.4L477.8 118.9L478.9 119.4L480.0 119.1L480.8 119.3L481.7 120.7L482.6 120.1L483.5 120.7L484.5 119.7L485.5 120.7L486.6 120.0L487.6 119.7L488.7 120.6L489.7 121.0L490.8 119.5L491.8 120.4L492.8 120.5L493.8 119.8L494.8 120.1L495.7 119.7L496.5 119.9L497.3 120.0L498.1 120.6L498.7 120.7L499.3 119.9L499.8 120.5" stroke-width="1.2"/>
</g>
<g transform="translate(299.3 71.9) scale(1 1)" fill="none" stroke="#222" stroke-width="1.3" stroke-linecap="round" stroke-linejoin="round"><path d="M17.1 0H3.6A3.6 3.6 0 0 0 0 3.6V33A3.6 3.6 0 0 0 3.6 36.6H33.6A3.6 3.6 0 0 0 37.2 33V3.6A3.6 3.6 0 0 0 33.6 0H19.9" stroke-width="1.1"/><path d="M17.1 0.2L17.0 0.9L16.8 2.0L16.6 3.0L16.4 3.7L16.1 4.4L15.6 5.3L15.3 5.9L14.8 6.5L14.4 7.2L13.9 8.0L13.4 8.8L12.9 9.6L12.4 10.3L11.9 11.0L11.5 11.8L11.0 12.5L10.6 13.2L10.2 13.9L9.8 14.7L9.4 15.4L9.0 16.2L8.7 17.1L8.4 17.9L8.1 18.7L7.9 19.6L7.7 20.4L7.6 21.2L7.5 22.1L7.5 22.9L7.5 23.8L7.6 24.7L7.7 25.5L7.9 26.4L8.1 27.2L8.4 28.1L8.7 28.9L9.0 29.7L9.4 30.5L9.8 31.2L10.3 32.0L10.8 32.7L11.4 33.4L11.9 34.0L12.4 34.5L13.1 35.2L13.8 35.8L14.5 36.2L14.9 36.5"/><path d="M19.9 0.2L19.9 0.9L20.0 2.0L20.1 3.0L20.2 3.7L20.4 4.4L20.9 5.3L21.2 5.9L21.6 6.5L22.0 7.2L22.5 8.0L23.0 8.8L23.5 9.6L24.0 10.3L24.5 11.0L25.0 11.8L25.6 12.5L26.1 13.2L26.7 13.9L27.2 14.7L27.6 15.4L28.0 16.2L28.5 17.1L28.8 17.9L29.1 18.7L29.4 19.6L29.6 20.4L29.8 21.2L29.9 22.1L29.9 22.9L29.9 23.8L29.9 24.7L29.8 25.5L29.6 26.4L29.4 27.2L29.2 28.1L28.8 28.9L28.5 29.7L28.1 30.5L27.7 31.2L27.1 32.0L26.6 32.7L26.0 33.4L25.5 34.0L25.0 34.5L24.3 35.2L23.6 35.8L22.9 36.2L22.5 36.5"/><path d="M17.3 12.1L16.8 12.5L16.0 13.2L15.2 13.9L14.4 14.8L13.9 15.5L13.5 16.2L13.0 17.0L12.6 17.8L12.2 18.6L11.9 19.4L11.6 20.2L11.4 21.0L11.2 21.9L11.1 22.7L11.1 23.6L11.1 24.4L11.2 25.3L11.4 26.2L11.7 27.1L12.0 28.0L12.4 28.8L12.9 29.5L13.5 30.1L14.2 30.8L15.0 31.3L15.8 31.8L16.7 32.1L17.5 32.3L18.3 32.4L19.2 32.3L20.1 32.1L20.9 31.8L21.8 31.4L22.5 31.0L23.2 30.5L23.9 29.9L24.5 29.2L25.0 28.5L25.5 27.7L25.9 27.0L26.3 26.1L26.5 25.1L26.6 24.2L26.7 23.2L26.6 22.4L26.3 21.5L25.9 20.6L25.4 19.9L24.8 19.2L24.1 18.6L23.4 18.1L22.7 17.7L22.0 17.4L20.9 17.1L20.2 17.0"/><path d="M17.3 12.1l-0.3 2.7M17.3 12.1l2.5 0.6M20.2 17l2.4-1M20.2 17l1.6 2" stroke-width="1"/><path d="M23.0 20.9L23.1 21.5L23.3 22.4L23.4 23.4L23.3 24.2L22.9 25.0L22.3 25.6L21.5 26.2L20.8 26.5L19.9 26.8L19.0 27.1L18.2 27.3L17.6 27.5" stroke-width="1.2"/><path d="M17.6 27.5l1.5-2.1M17.6 27.5l2.5 0.9" stroke-width="1"/><circle cx="30.8" cy="5.2" r="1.8" fill="#8a8a8a" stroke-width="0.7"/></g>
<g clip-path="url(#cb)"><g transform="translate(476.7 71.5) scale(1 0.972)" fill="none" stroke="#222" stroke-width="1.3" stroke-linecap="round" stroke-linejoin="round"><path d="M17.1 0H3.6A3.6 3.6 0 0 0 0 3.6V33A3.6 3.6 0 0 0 3.6 36.6H33.6A3.6 3.6 0 0 0 37.2 33V3.6A3.6 3.6 0 0 0 33.6 0H19.9" stroke-width="1.1"/><path d="M17.1 0.2L17.0 0.9L16.8 2.0L16.6 3.0L16.4 3.7L16.1 4.4L15.6 5.3L15.3 5.9L14.8 6.5L14.4 7.2L13.9 8.0L13.4 8.8L12.9 9.6L12.4 10.3L11.9 11.0L11.5 11.8L11.0 12.5L10.6 13.2L10.2 13.9L9.8 14.7L9.4 15.4L9.0 16.2L8.7 17.1L8.4 17.9L8.1 18.7L7.9 19.6L7.7 20.4L7.6 21.2L7.5 22.1L7.5 22.9L7.5 23.8L7.6 24.7L7.7 25.5L7.9 26.4L8.1 27.2L8.4 28.1L8.7 28.9L9.0 29.7L9.4 30.5L9.8 31.2L10.3 32.0L10.8 32.7L11.4 33.4L11.9 34.0L12.4 34.5L13.1 35.2L13.8 35.8L14.5 36.2L14.9 36.5"/><path d="M19.9 0.2L19.9 0.9L20.0 2.0L20.1 3.0L20.2 3.7L20.4 4.4L20.9 5.3L21.2 5.9L21.6 6.5L22.0 7.2L22.5 8.0L23.0 8.8L23.5 9.6L24.0 10.3L24.5 11.0L25.0 11.8L25.6 12.5L26.1 13.2L26.7 13.9L27.2 14.7L27.6 15.4L28.0 16.2L28.5 17.1L28.8 17.9L29.1 18.7L29.4 19.6L29.6 20.4L29.8 21.2L29.9 22.1L29.9 22.9L29.9 23.8L29.9 24.7L29.8 25.5L29.6 26.4L29.4 27.2L29.2 28.1L28.8 28.9L28.5 29.7L28.1 30.5L27.7 31.2L27.1 32.0L26.6 32.7L26.0 33.4L25.5 34.0L25.0 34.5L24.3 35.2L23.6 35.8L22.9 36.2L22.5 36.5"/><path d="M17.3 12.1L16.8 12.5L16.0 13.2L15.2 13.9L14.4 14.8L13.9 15.5L13.5 16.2L13.0 17.0L12.6 17.8L12.2 18.6L11.9 19.4L11.6 20.2L11.4 21.0L11.2 21.9L11.1 22.7L11.1 23.6L11.1 24.4L11.2 25.3L11.4 26.2L11.7 27.1L12.0 28.0L12.4 28.8L12.9 29.5L13.5 30.1L14.2 30.8L15.0 31.3L15.8 31.8L16.7 32.1L17.5 32.3L18.3 32.4L19.2 32.3L20.1 32.1L20.9 31.8L21.8 31.4L22.5 31.0L23.2 30.5L23.9 29.9L24.5 29.2L25.0 28.5L25.5 27.7L25.9 27.0L26.3 26.1L26.5 25.1L26.6 24.2L26.7 23.2L26.6 22.4L26.3 21.5L25.9 20.6L25.4 19.9L24.8 19.2L24.1 18.6L23.4 18.1L22.7 17.7L22.0 17.4L20.9 17.1L20.2 17.0"/><path d="M17.3 12.1l-0.3 2.7M17.3 12.1l2.5 0.6M20.2 17l2.4-1M20.2 17l1.6 2" stroke-width="1"/><path d="M23.0 20.9L23.1 21.5L23.3 22.4L23.4 23.4L23.3 24.2L22.9 25.0L22.3 25.6L21.5 26.2L20.8 26.5L19.9 26.8L19.0 27.1L18.2 27.3L17.6 27.5" stroke-width="1.2"/><path d="M17.6 27.5l1.5-2.1M17.6 27.5l2.5 0.9" stroke-width="1"/><circle cx="30.8" cy="5.2" r="1.8" fill="#8a8a8a" stroke-width="0.7"/></g></g>
<path d="M290.3 138.8V28.1M500.3 28.1V138.8" fill="none" stroke="#333" stroke-width="1.1"/>
<path d="M290.3 28.1H500.3" fill="none" stroke="#444" stroke-width="1.1"/>
<text x="443.3" y="47.4" font-size="10.4" textLength="15.8" lengthAdjust="spacingAndGlyphs">WT</text>
<text x="424.6" y="98.8" font-size="10.4" font-style="italic"><tspan textLength="37.5" lengthAdjust="spacingAndGlyphs">Pf4-Lox</tspan><tspan dy="-3.5" font-size="7.4" textLength="15" lengthAdjust="spacingAndGlyphs">tg/tg</tspan></text>
<text x="427.1" y="132.9" font-size="10.4" font-style="italic"><tspan textLength="37.5" lengthAdjust="spacingAndGlyphs">Pf4-Lox</tspan><tspan dy="-3.5" font-size="7.4" textLength="15" lengthAdjust="spacingAndGlyphs">tg/tg</tspan></text>
<text x="349.8" y="121" font-size="10.4" textLength="27.2" lengthAdjust="spacingAndGlyphs">1 min</text>
<rect x="347.8" y="124.8" width="30.2" height="2.4" fill="#000"/>
</g>
</svg></body></html>
